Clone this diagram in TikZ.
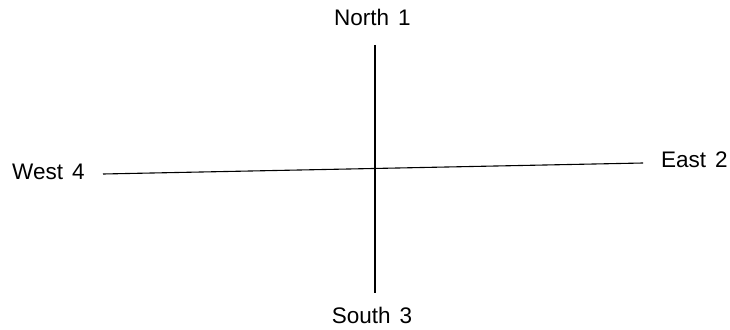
\documentclass[tikz,border=0pt]{standalone}
\usepackage{fontspec}
\setmainfont{Liberation Sans}
\begin{document}
\begin{tikzpicture}[x=1pt,y=-1pt,
  lbl/.style={inner sep=0pt,font=\fontsize{22.5}{27}\selectfont},
  axis/.style={line width=1.1pt,black}]
\useasboundingbox (0,0) rectangle (730,329);
\node[lbl] (north) at (372.5,17) {North\hspace{0.4em}1};
\node[lbl] (south) at (372,315) {South\hspace{0.4em}3};
\node[lbl,anchor=west] (west) at (12,172) {West\hspace{0.4em}4};
\node[lbl,anchor=west] (east) at (661,160) {East\hspace{0.4em}2};
\coordinate (ntop) at (375,45);
\coordinate (sbot) at (375,293);
\coordinate (wend) at (103,174);
\coordinate (eend) at (643,163);
\draw[axis] (ntop) -- (sbot);
\draw[axis] (wend) -- (eend);
\end{tikzpicture}
\end{document}
